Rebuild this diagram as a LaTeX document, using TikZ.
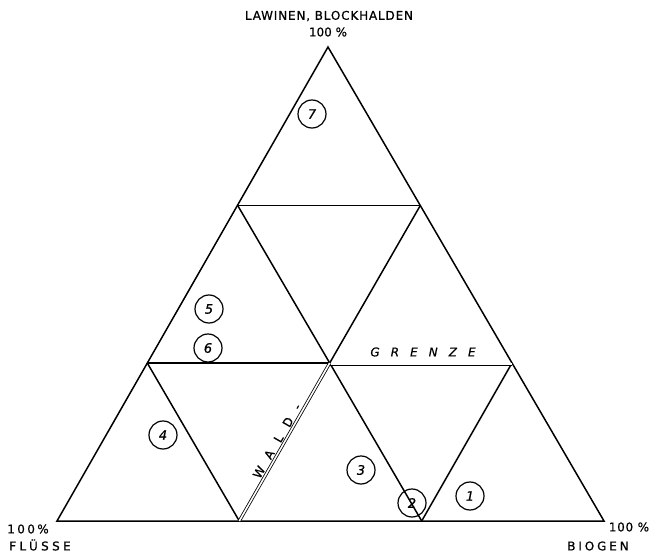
\documentclass[tikz,border=0pt]{standalone}
\usepackage{fontspec}
\setmainfont{DejaVu Sans}[FakeBold=0.6]
\begin{document}
\begin{tikzpicture}[x=1pt,y=-1pt,
  edge/.style={line width=1.5pt,line join=miter},
  dbl/.style={line width=0.8pt,double,double distance=1.6pt},
  num/.style={circle,draw,line width=1.2pt,minimum size=28pt,inner sep=0pt,
    font=\fontsize{13}{13}\selectfont\itshape},
  lab/.style={inner sep=0pt}]
\useasboundingbox (0,0) rectangle (656,556);
% vertices
\coordinate (T) at (328,47);
\coordinate (BL) at (57,521);
\coordinate (BR) at (604,521);
\coordinate (A1) at (237.7,205.5);
\coordinate (A2) at (147.3,363);
\coordinate (B1) at (420.3,205.5);
\coordinate (B2) at (512,363);
\coordinate (C1) at (239.3,521);
\coordinate (C2) at (421.7,521);
\coordinate (M) at (329.7,363);
% outer triangle
\draw[edge] (T) -- (BL) -- (BR) -- cycle;
% grid
\draw[edge] (A1) -- (B1);
\draw[edge] (A2) -- (M);
\draw[edge] (A1) -- (M) -- (C2);
\draw[edge] (B1) -- (M);
\draw[edge] (A2) -- (C1);
\draw[edge] (B2) -- (C2);
% boundary (double lines)
\draw[dbl] ([yshift=-1.2pt]M) -- ([yshift=-1.2pt]B2);
\draw[dbl] (M) -- (C1);
% labels
\node[lab,font=\fontsize{12}{14}\selectfont\addfontfeature{LetterSpace=7}] (tl) at (329,16) {LAWINEN, BLOCKHALDEN};
\node[lab,font=\fontsize{12}{14}\selectfont] (tp) at (328,32) {100 \%};
\node[lab,font=\fontsize{12}{14}\selectfont\addfontfeature{LetterSpace=20}] (lp) at (28,529) {100\%};
\node[lab,font=\fontsize{12}{14}\selectfont\addfontfeature{LetterSpace=28}] (ll) at (40,545) {FLÜSSE};
\node[lab,font=\fontsize{12}{14}\selectfont\addfontfeature{LetterSpace=6}] (rp) at (629,527) {100 \%};
\node[lab,font=\fontsize{12}{14}\selectfont\addfontfeature{LetterSpace=24}] (rl) at (598,546) {BIOGEN};
\node[lab,font=\fontsize{12}{14}\selectfont\itshape\addfontfeature{LetterSpace=92}] (gr) at (423,352) {GRENZE};
\node[lab,rotate=60,font=\fontsize{12}{14}\selectfont\addfontfeature{LetterSpace=92}] (wa) at (277,441) {WALD-};
% circled numbers
\node[num] (n7) at (312,114) {7};
\node[num] (n5) at (209,309) {5};
\node[num] (n6) at (208,348) {6};
\node[num] (n4) at (163,435) {4};
\node[num] (n3) at (361,470) {3};
\node[num] (n2) at (412,503) {2};
\node[num] (n1) at (470,496) {1};
\end{tikzpicture}
\end{document}
